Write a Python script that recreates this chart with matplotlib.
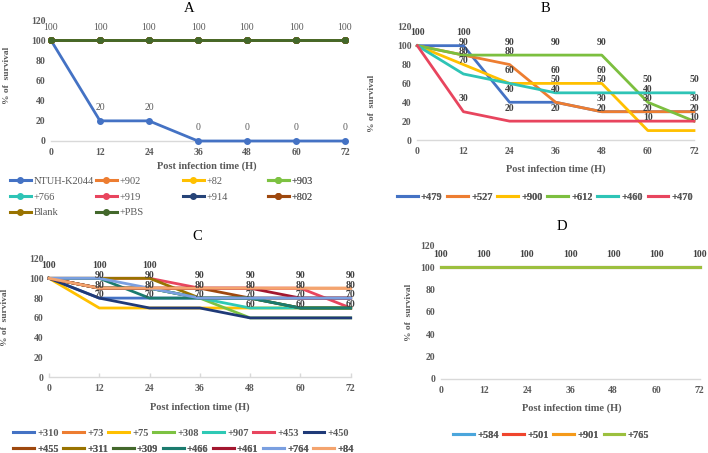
import matplotlib
matplotlib.use("Agg")
import matplotlib.pyplot as plt
from matplotlib.lines import Line2D

plt.rcParams['font.family'] = ['Liberation Serif', 'DejaVu Serif']

W, H = 708, 453
DPI = 100
GREY = '#595959'
DGREY = '#404040'

hours = [0, 12, 24, 36, 48, 60, 72]
yticks = [0, 20, 40, 60, 80, 100, 120]

# ---------------- Panel A ----------------
a_names = ['NTUH-K2044', '+902', '+82', '+903', '+766', '+919', '+914', '+802', 'Blank', '+PBS']
a_colors = ['#4472C4', '#ED7D31', '#FFC000', '#7DC242', '#2EC4B6', '#E8455E', '#264478', '#9E480E', '#997300', '#43682B']
a_values = [
    [100, 20, 20, 0, 0, 0, 0],
    [100, 100, 100, 100, 100, 100, 100],
    [100, 100, 100, 100, 100, 100, 100],
    [100, 100, 100, 100, 100, 100, 100],
    [100, 100, 100, 100, 100, 100, 100],
    [100, 100, 100, 100, 100, 100, 100],
    [100, 100, 100, 100, 100, 100, 100],
    [100, 100, 100, 100, 100, 100, 100],
    [100, 100, 100, 100, 100, 100, 100],
    [100, 100, 100, 100, 100, 100, 100],
]

# ---------------- Panel B ----------------
b_names = ['+479', '+527', '+900', '+612', '+460', '+470']
b_colors = ['#4472C4', '#ED7D31', '#FFC000', '#7CBF3F', '#2EC4B6', '#E8455E']
b_values = [
    [100, 100, 40, 40, 30, 30, 30],
    [100, 90, 80, 40, 30, 30, 30],
    [100, 80, 60, 60, 60, 10, 10],
    [100, 90, 90, 90, 90, 40, 20],
    [100, 70, 60, 50, 50, 50, 50],
    [100, 30, 20, 20, 20, 20, 20],
]

# ---------------- Panel C ----------------
c_names = ['+310', '+73', '+75', '+308', '+907', '+453', '+450',
           '+455', '+311', '+309', '+466', '+461', '+764', '+84']
c_colors = ['#4472C4', '#ED7D31', '#FFC000', '#7DC242', '#2EC9B5', '#E8455E', '#1F3A78',
            '#9E480E', '#997300', '#43682B', '#1B7B6E', '#A3172F', '#7A9FE0', '#F4A46E']
c_values = [
    [100, 80, 80, 80, 80, 80, 80],
    [100, 90, 90, 90, 90, 90, 90],
    [100, 70, 70, 70, 70, 70, 70],
    [100, 90, 90, 80, 60, 60, 60],
    [100, 90, 90, 80, 70, 70, 70],
    [100, 100, 100, 90, 90, 90, 70],
    [100, 80, 70, 70, 60, 60, 60],
    [100, 90, 90, 90, 80, 80, 80],
    [100, 100, 100, 80, 80, 70, 70],
    [100, 90, 90, 80, 80, 70, 70],
    [100, 100, 80, 80, 80, 70, 70],
    [100, 90, 90, 90, 90, 80, 80],
    [100, 100, 90, 80, 80, 80, 80],
    [100, 90, 90, 90, 90, 90, 90],
]

# ---------------- Panel D ----------------
d_names = ['+584', '+501', '+901', '+765']
d_colors = ['#4BA6DC', '#F0452D', '#F59A1A', '#9CC03E']
d_values = [
    [100, 100, 100, 100, 100, 100, 100],
    [100, 100, 100, 100, 100, 100, 100],
    [100, 100, 100, 100, 100, 100, 100],
    [100, 100, 100, 100, 100, 100, 100],
]

fig = plt.figure(figsize=(W / DPI, H / DPI), dpi=DPI)
fig.patch.set_facecolor('white')


def make_axes(x0, x1, y0, y120):
    ax = fig.add_axes([x0 / W, 1 - y0 / H, (x1 - x0) / W, (y0 - y120) / H])
    ax.set_xlim(0, 72)
    ax.set_ylim(0, 120)
    for s in ['top', 'right', 'left']:
        ax.spines[s].set_visible(False)
    ax.spines['bottom'].set_color('#D9D9D9')
    ax.spines['bottom'].set_linewidth(1.0)
    ax.set_xticks(hours)
    ax.set_yticks(yticks)
    ax.tick_params(axis='both', length=0, labelsize=7, labelcolor=GREY)
    ax.tick_params(axis='x', pad=5)
    ax.tick_params(axis='y', pad=4)
    for lab in ax.get_xticklabels() + ax.get_yticklabels():
        lab.set_fontweight('bold')
    ax.patch.set_alpha(0)
    return ax


def add_labels(ax, values, color, weight):
    for i, h in enumerate(hours):
        vals = sorted(set(v[i] for v in values))
        for val in vals:
            ax.annotate(str(val), (h, val), xytext=(0, 9.4), textcoords='offset points',
                        ha='center', va='center', fontsize=7, color=color,
                        fontweight=weight, annotation_clip=False)


def fig_legend(ax, names, colors, x, y, marker=None, bold=True, ncol=None, loc='center left',
               labelspacing=0.42):
    handles = [Line2D([], [], color=c, lw=2.2, marker=marker, markersize=4) for c in colors]
    leg = ax.legend(handles, names, loc=loc, bbox_to_anchor=(x / W, 1 - y / H),
                    bbox_transform=fig.transFigure, ncol=ncol or len(names), frameon=False,
                    handlelength=2.0, handletextpad=0.3, columnspacing=0.45,
                    borderpad=0, borderaxespad=0, labelspacing=labelspacing,
                    prop={'weight': 'bold' if bold else 'normal', 'size': 7.5})
    for t in leg.get_texts():
        t.set_color(GREY)
    ax.add_artist(leg)
    return leg


def decorate(title, tx, ty, xlx, xly, ylx, yly):
    fig.text(tx / W, 1 - ty / H, title, ha='center', va='center', fontsize=10.5, color='black')
    fig.text(xlx / W, 1 - xly / H, 'Post infection time (H)', ha='center', va='center',
             fontsize=7.5, fontweight='bold', color=GREY)
    fig.text(ylx / W, 1 - yly / H, '% of  survival', ha='center', va='center', rotation=90,
             fontsize=6.8, fontweight='bold', color=GREY)


# Panel A
axA = make_axes(51, 345, 141, 20.2)
for vals, col in zip(a_values, a_colors):
    axA.plot(hours, vals, color=col, lw=2.0, marker='o', markersize=4, clip_on=False, zorder=3)
add_labels(axA, a_values, GREY, 'normal')
decorate('A', 189, 8, 207, 166, 7, 75)
a_cols_x = [10, 96, 183, 268]
for j in range(4):
    fig_legend(axA, a_names[j::4], a_colors[j::4], a_cols_x[j], 176.5, marker='o', bold=False,
               ncol=1, loc='upper left', labelspacing=0.62)

# Panel B
axB = make_axes(417.3, 694, 140, 26.8)
for vals, col in zip(b_values, b_colors):
    axB.plot(hours, vals, color=col, lw=2.0, clip_on=False, zorder=3)
add_labels(axB, b_values, DGREY, 'bold')
decorate('B', 545, 9, 556, 169, 372, 103)
fig_legend(axB, b_names, b_colors, 545, 197, loc='center')

# Panel C
axC = make_axes(49, 350.7, 377.3, 258.5)
axC.tick_params(axis='x', direction='in', length=3, color='#D9D9D9', width=1)
for vals, col in zip(c_values, c_colors):
    axC.plot(hours, vals, color=col, lw=2.0, clip_on=False, zorder=3)
add_labels(axC, c_values, DGREY, 'bold')
decorate('C', 197, 237, 200, 406.7, 5, 317)
fig_legend(axC, c_names[:7], c_colors[:7], 13, 433.3)
fig_legend(axC, c_names[7:], c_colors[7:], 13, 449)

# Panel D
axD = make_axes(440.7, 699.5, 378.7, 245)
for vals, col in zip(d_values, d_colors):
    axD.plot(hours, vals, color=col, lw=2.2, clip_on=False, zorder=3)
add_labels(axD, d_values, DGREY, 'bold')
decorate('D', 562, 227, 571.5, 408, 409, 312)
fig_legend(axD, d_names, d_colors, 551, 435, loc='center')

fig.savefig('out.png', dpi=DPI, facecolor='white')
